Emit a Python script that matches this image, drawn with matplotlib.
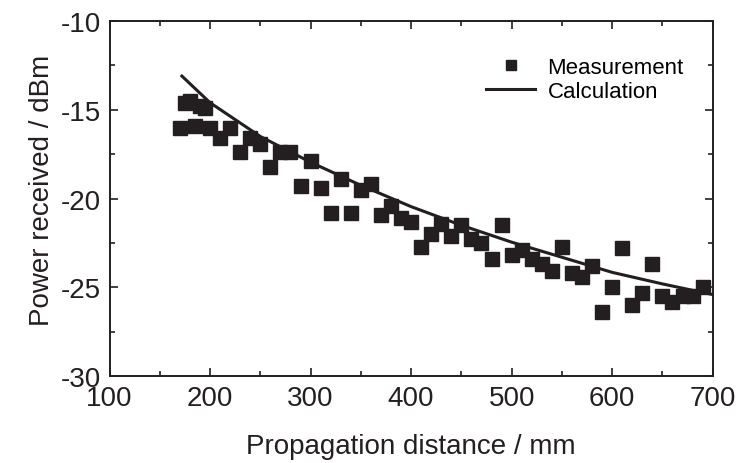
import matplotlib.pyplot as plt
from matplotlib.ticker import MultipleLocator

plt.rcParams['font.family'] = ['Liberation Sans', 'DejaVu Sans']
plt.rcParams['axes.unicode_minus'] = False

# measured points (distance in mm, power in dBm)
dist = [170, 175, 180, 185, 190, 195, 200, 210, 220, 230, 240, 250, 260, 270,
        280, 290, 300, 310, 320, 330, 340, 350, 360, 370, 380, 390, 400, 410,
        420, 430, 440, 450, 460, 470, 480, 490, 500, 510, 520, 530, 540, 550,
        560, 570, 580, 590, 600, 610, 620, 630, 640, 650, 660, 670, 680, 690]
power = [-16.0, -14.6, -14.5, -15.9, -14.8, -14.9, -16.0, -16.6, -16.0, -17.4,
         -16.6, -16.9, -18.2, -17.4, -17.4, -19.3, -17.9, -19.4, -20.8, -18.9,
         -20.8, -19.5, -19.2, -20.9, -20.4, -21.1, -21.3, -22.7, -22.0, -21.4,
         -22.1, -21.5, -22.3, -22.5, -23.4, -21.5, -23.2, -22.9, -23.4, -23.7,
         -24.1, -22.7, -24.2, -24.4, -23.8, -26.4, -25.0, -22.8, -26.0, -25.3,
         -23.7, -25.5, -25.8, -25.5, -25.5, -25.0]

# calculated curve
calc_dist = [172, 200, 250, 300, 350, 400, 450, 500, 550, 600, 650, 700]
calc_power = [-13.1, -14.6, -16.5, -17.95, -19.25, -20.45, -21.5, -22.45,
              -23.3, -24.15, -24.8, -25.4]

col = '#231f20'

fig = plt.figure(figsize=(7.37, 4.64), dpi=100)
ax = fig.add_axes([0.1486, 0.1869, 0.8184, 0.7657])

ax.plot(dist, power, 's', color=col, markersize=9.4, label='Measurement')
ax.plot(calc_dist, calc_power, '-', color=col, linewidth=2.2, label='Calculation')

ax.set_xlim(100, 700)
ax.set_ylim(-30, -10)
ax.xaxis.set_major_locator(MultipleLocator(100))
ax.xaxis.set_minor_locator(MultipleLocator(50))
ax.yaxis.set_major_locator(MultipleLocator(5))
ax.yaxis.set_minor_locator(MultipleLocator(2.5))
ax.tick_params(which='both', direction='in', top=True, right=True,
               width=1.2, colors=col, labelcolor=col)
ax.tick_params(which='major', length=5.5)
ax.tick_params(which='minor', length=3.5)
ax.tick_params(axis='x', labelsize=20, pad=6)
ax.tick_params(axis='y', labelsize=20, pad=6)
for s in ax.spines.values():
    s.set_linewidth(1.4)
    s.set_color(col)

ax.set_xlabel('Propagation distance / mm', fontsize=20, color=col, labelpad=16)
ax.set_ylabel('Power received / dBm', fontsize=20, color=col)
ax.yaxis.set_label_coords(-0.09, 0.527)

ax.legend(loc='upper left', frameon=False, fontsize=16, handlelength=2.2,
          handletextpad=0.55, labelspacing=0.15, markerscale=0.75,
          borderpad=0, borderaxespad=0, bbox_to_anchor=(0.625, 0.90))

fig.savefig('out.png', dpi=100)
